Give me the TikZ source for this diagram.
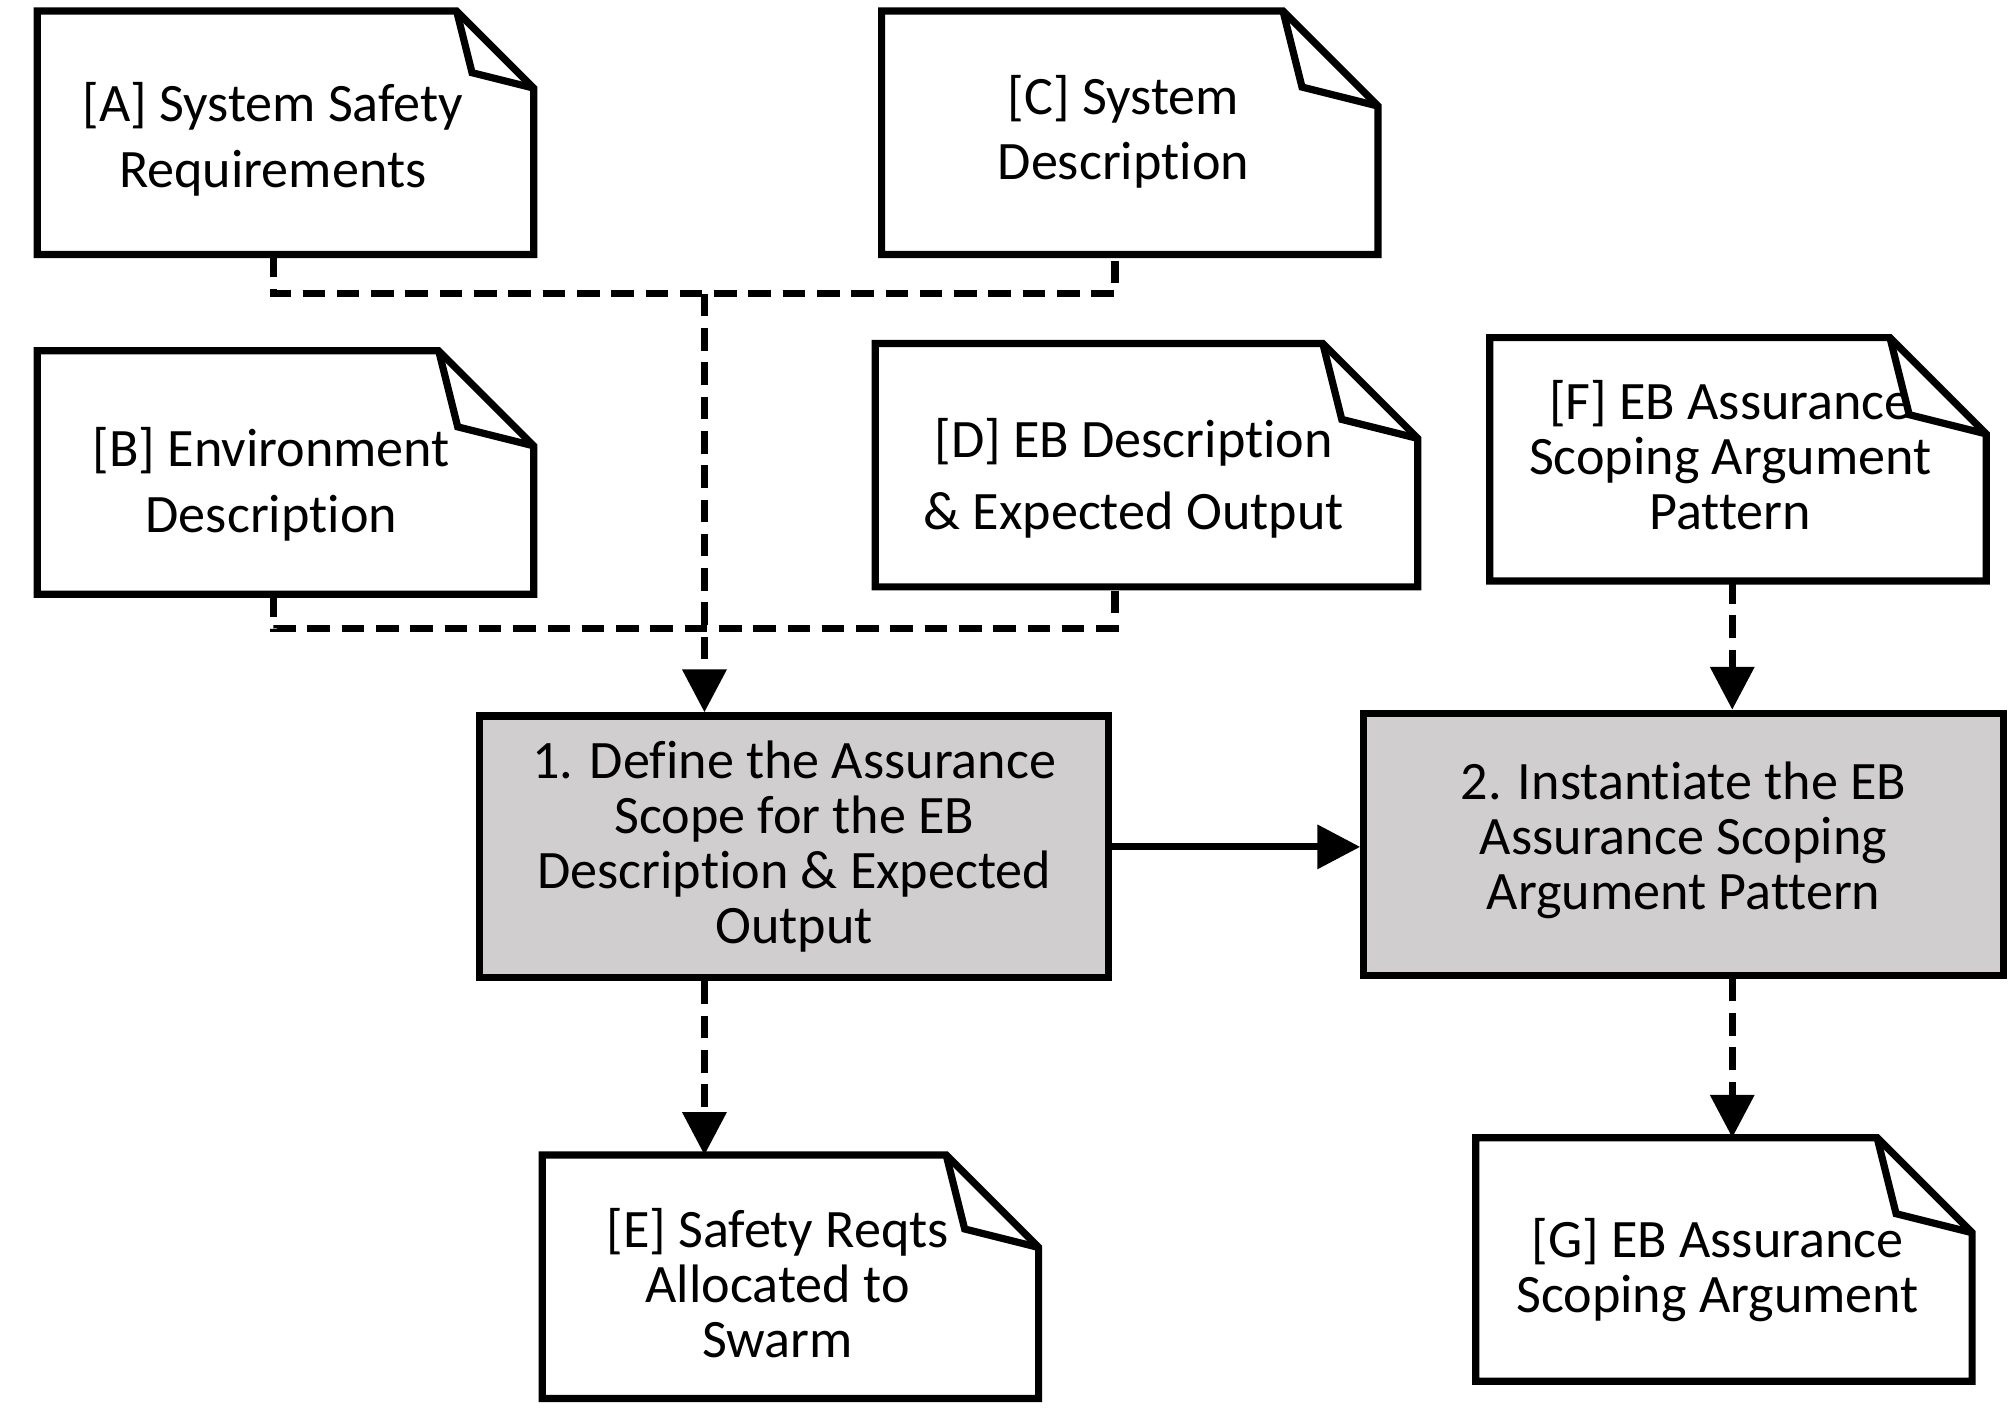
\documentclass[tikz,border=0pt]{standalone}
\usepackage{fontspec}
\setmainfont{Carlito}[Ligatures=NoCommon]
\usetikzlibrary{positioning,calc,arrows.meta}
\definecolor{taskgrey}{HTML}{D0CECF}

\begin{document}
\begin{tikzpicture}[
		x=0.01cm, y=-0.01cm,
		>={Triangle[width=9.5pt,length=9.5pt]},
		line width=1.6pt,
		font=\fontsize{12}{12.2}\selectfont,
		doc/.style={minimum width=3.81cm, minimum height=1.84cm, inner sep=0pt},
		txt/.style={align=center, inner sep=0pt},
		loose/.style={font=\fontsize{12}{14.5}\selectfont},
		task/.style={draw, fill=taskgrey, minimum height=2.04cm, align=center, inner sep=0pt},
		flow/.style={dash pattern=on 5pt off 2.6pt},
	]
		\useasboundingbox[fill=white] (0,0) rectangle (1568,1097);

		\node[doc] (sa) at (222.5,103.5) {};
		\node[doc,right=2.71cm of sa] (sc) {};
		\node[doc,below=0.75cm of sa] (sb) {};
		\node[doc,minimum width=4.17cm] (sd) at (893.5,362.5) {};
		\node[doc] (sf) at (1354.5,358) {};
		\node[doc] (se) at (616,995) {};
		\node[doc] (sg) at (1343.5,981.5) {};

		\node[txt,loose] (sa-t) at ([shift={(-10,5)}]sa.center) {[A] System Safety\\Requirements};
		\node[txt,loose] (sc-t) at ([shift={(-5,-1)}]sc.center) {[C] System\\Description};
		\node[txt,loose] (sb-t) at ([shift={(-11,9)}]sb.center) {[B] Environment\\Description};
		\node[txt,font=\fontsize{12}{16}\selectfont] (sd-t) at ([shift={(-10,10)}]sd.center)
			{[D] EB Description\\\& Expected Output};
		\node[txt] (sf-t) at ([shift={(-6,-3)}]sf.center) {[F] EB Assurance\\Scoping Argument\\Pattern};
		\node[txt] (se-t) at ([shift={(-10,5)}]se.center) {[E] Safety Reqts\\Allocated to\\Swarm};
		\node[txt] (sg-t) at ([shift={(-5,8)}]sg.center) {[G] EB Assurance\\Scoping Argument};

		\node[task,minimum width=4.90cm] (p1) at (619,660)
			{1. Define the Assurance\\Scope for the EB\\Description \& Expected\\Output};
		\node[task,minimum width=4.98cm,text depth=0.13cm] (p2) at (1312,658)
			{2. Instantiate the EB\\Assurance Scoping\\Argument Pattern};

		\foreach \n/\f in {sa/0.60,sc/0.74,sb/0.74,sd/0.74,sf/0.75,se/0.72,sg/0.74} {
			\draw (\n.south west) -- (\n.north west) -- ([xshift=-\f cm]\n.north east)
				-- ([yshift=-\f cm]\n.north east) -- (\n.south east) -- cycle;
			\draw ([xshift=-\f cm]\n.north east) -- ([xshift={-0.8*\f*1cm},yshift={-0.8*\f*1cm}]\n.north east)
				-- ([yshift=-\f cm]\n.north east);
		}

		\coordinate (ta) at (213,229);
		\coordinate (tc) at (869,229);
		\coordinate (tb) at (213,490);
		\coordinate (td) at (869,490);
		\coordinate (trunk) at (549,229);
		\coordinate (col) at (1350,0);

		\draw[flow] (sa.south -| ta) |- (tc) -- (sc.south -| tc);
		\draw[flow] (sb.south -| tb) |- (td) -- (sd.south -| td);
		\path[->,flow]
			(trunk) edge (p1.north -| trunk)
			(p1.south -| trunk) edge (se.north -| trunk)
			(sf.south -| col) edge (p2.north -| col)
			(p2.south -| col) edge (sg.north -| col)
		;
		\draw[->] (p1.east) -- (p1.east -| p2.west);
	\end{tikzpicture}
\end{document}
